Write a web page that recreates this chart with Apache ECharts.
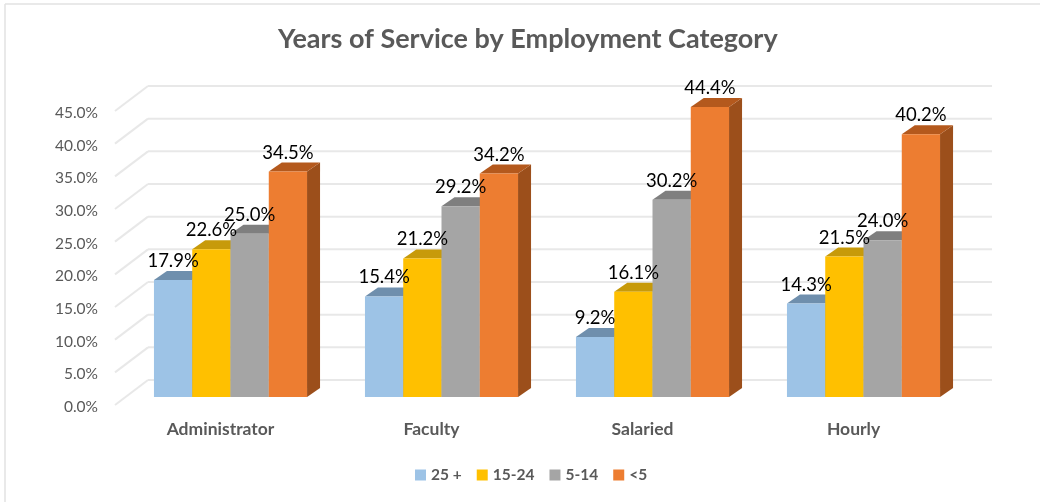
<!DOCTYPE html>
<html>
<head>
<meta charset="utf-8">
<style>
  html, body { margin: 0; padding: 0; background: #fff; }
  #chart { width: 1040px; height: 502px; }
</style>
<script src="https://cdn.jsdelivr.net/npm/echarts@6/dist/echarts.min.js"></script>
</head>
<body>
<div id="chart"></div>
<script>
const categories = ['Administrator', 'Faculty', 'Salaried', 'Hourly'];
const seriesNames = ['25 +', '15-24', '5-14', '<5'];
const years25Plus = [17.9, 15.4, 9.2, 14.3];
const years15to24 = [22.6, 21.2, 16.1, 21.5];
const years5to14 = [25.0, 29.2, 30.2, 24.0];
const yearsUnder5 = [34.5, 34.2, 44.4, 40.2];
const tickValues = [0, 5, 10, 15, 20, 25, 30, 35, 40, 45];

const FONT = 'Lato, "Open Sans", sans-serif';
// Per-series shades: front, top and side faces of each column.
const faces = [
  { front: '#9DC3E6', top: '#6F8FAD', side: '#5F7F9E' },
  { front: '#FFC000', top: '#C79A0A', side: '#A88204' },
  { front: '#A5A5A5', top: '#7F7F7F', side: '#6E6E6E' },
  { front: '#ED7D31', top: '#B4591D', side: '#9C4F1B' }
];
// Pseudo-3D geometry: offset of the back wall, and of the column block on the floor.
const WALL_DX = 33, WALL_DY = -25;
const FLOOR_DX = 10, FLOOR_DY = -8;
const DEPTH_DX = 13, DEPTH_DY = -9;
const GROUP_SHARE = 0.7255;

function wallRenderer(params, api) {
  const p = api.coord([0, api.value(0)]);
  const rect = params.coordSys;
  const y = p[1];
  const line = (x1, y1, x2, y2) => ({
    type: 'line',
    shape: { x1, y1, x2, y2 },
    style: { stroke: '#E8E8E8', lineWidth: 2 }
  });
  return {
    type: 'group',
    children: [
      line(rect.x, y, rect.x + WALL_DX, y + WALL_DY),
      line(rect.x + WALL_DX, y + WALL_DY, rect.x + rect.width + WALL_DX, y + WALL_DY)
    ]
  };
}

function columnRenderer(index) {
  return function (params, api) {
    const cat = api.value(0);
    const val = api.value(1);
    const base = api.coord([cat, 0]);
    const top = api.coord([cat, val]);
    const groupWidth = api.size([1, 0])[0] * GROUP_SHARE;
    const w = groupWidth / seriesNames.length;
    const x0 = base[0] + FLOOR_DX - groupWidth / 2 + w * index;
    const x1 = x0 + w;
    const yB = base[1] + FLOOR_DY;
    const yT = top[1] + FLOOR_DY;
    const c = faces[index];
    return {
      type: 'group',
      children: [
        {
          type: 'polygon',
          shape: { points: [[x1, yB], [x1 + DEPTH_DX, yB + DEPTH_DY], [x1 + DEPTH_DX, yT + DEPTH_DY], [x1, yT]] },
          style: { fill: c.side }
        },
        {
          type: 'polygon',
          shape: { points: [[x0, yT], [x0 + DEPTH_DX, yT + DEPTH_DY], [x1 + DEPTH_DX, yT + DEPTH_DY], [x1, yT]] },
          style: { fill: c.top }
        },
        {
          type: 'rect',
          shape: { x: x0, y: yT, width: w, height: yB - yT },
          style: { fill: c.front }
        },
        {
          type: 'text',
          z2: 100,
          style: {
            x: (x0 + x1) / 2,
            y: yT - 19,
            text: val.toFixed(1) + '%',
            align: 'center',
            verticalAlign: 'middle',
            fill: '#000',
            font: '18.5px ' + FONT
          }
        }
      ]
    };
  };
}

const columnData = [years25Plus, years15to24, years5to14, yearsUnder5];

const option = {
  animation: false,
  backgroundColor: '#fff',
  title: {
    text: 'Years of Service by Employment Category',
    left: 273,
    top: 21,
    textStyle: { fontFamily: FONT, fontSize: 27, fontWeight: 'bold', color: '#595959' }
  },
  legend: {
    bottom: 14,
    left: 410,
    icon: 'rect',
    itemWidth: 11,
    itemHeight: 11,
    itemGap: 15,
    data: seriesNames,
    textStyle: { fontFamily: FONT, fontSize: 15.5, fontWeight: 'bold', color: '#595959' }
  },
  grid: { left: 115, top: 111, width: 844, height: 294 },
  xAxis: {
    type: 'category',
    data: categories,
    axisLine: { show: false },
    axisTick: { show: false },
    axisLabel: { margin: 15, fontFamily: FONT, fontSize: 17.5, fontWeight: 'bold', color: '#595959' }
  },
  yAxis: {
    type: 'value',
    min: 0,
    max: 45,
    interval: 5,
    axisLine: { show: false },
    axisTick: { show: false },
    splitLine: { show: false },
    axisLabel: {
      margin: 17,
      verticalAlign: 'top',
      lineHeight: 4,
      fontFamily: FONT,
      fontSize: 15.5,
      color: '#595959',
      formatter: (v) => v.toFixed(1) + '%'
    }
  },
  // Chart frame: the top and left rules of the panel.
  graphic: [
    { type: 'line', silent: true, shape: { x1: 5, y1: 4, x2: 1040, y2: 4 }, style: { stroke: '#E2E2E2', lineWidth: 1.5 } },
    { type: 'line', silent: true, shape: { x1: 5, y1: 4, x2: 5, y2: 502 }, style: { stroke: '#E2E2E2', lineWidth: 1.5 } }
  ],
  series: [
    {
      name: 'wall',
      type: 'custom',
      coordinateSystem: 'cartesian2d',
      silent: true,
      encode: { y: 0 },
      renderItem: wallRenderer,
      data: tickValues.map((t) => [t])
    }
  ].concat(seriesNames.map((name, i) => ({
    name,
    type: 'custom',
    coordinateSystem: 'cartesian2d',
    renderItem: columnRenderer(i),
    encode: { x: 0, y: 1 },
    itemStyle: { color: faces[i].front },
    data: columnData[i].map((v, c) => [c, v])
  })))
};

const chart = echarts.init(document.getElementById('chart'), null, { renderer: 'canvas' });
chart.setOption(option);
</script>
</body>
</html>
